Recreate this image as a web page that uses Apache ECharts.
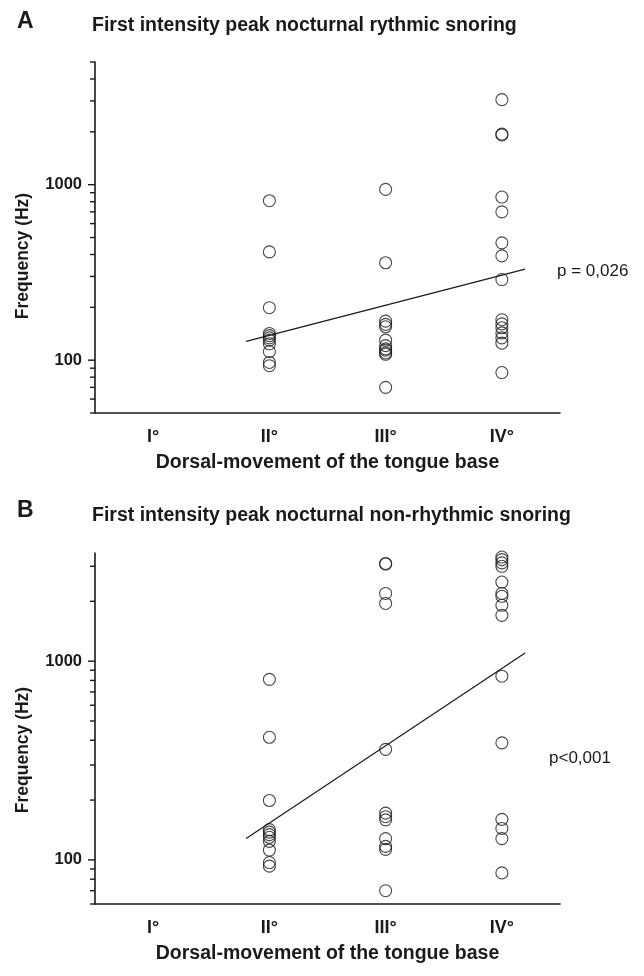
<!DOCTYPE html>
<html>
<head>
<meta charset="utf-8">
<script src="https://cdn.jsdelivr.net/npm/echarts@6/dist/echarts.min.js"></script>
<style>
  html, body { margin: 0; padding: 0; background: #ffffff; }
  #chart { width: 644px; height: 976px; }
</style>
</head>
<body>
<div id="chart"></div>
<script>
// Tongue-base dorsal movement grades (x categories)
const categories = ['I°', 'II°', 'III°', 'IV°'];
const yTickLabels = [100, 1000];

// Panel A: first intensity peak, rhythmic snoring (Hz)
const rhythmicII  = [810, 414, 199, 142, 138, 134, 130, 124, 112, 97, 93];
const rhythmicIII = [940, 359, 167, 160, 155, 130, 121, 116, 114, 110, 108, 70];
const rhythmicIV  = [3050, 1940, 1920, 850, 700, 466, 393, 288, 170, 161, 153, 143, 134, 125, 85];
const rhythmicFit = [[0.8, 128], [3.2, 330]];
const rhythmicRange = [50, 5000];
const rhythmicMinorTicks = [50, 60, 70, 80, 90, 200, 300, 400, 500, 600, 700, 800, 900, 2000, 3000, 4000, 5000];

// Panel B: first intensity peak, non-rhythmic snoring (Hz)
const nonRhythmicII  = [810, 414, 199, 142, 138, 134, 130, 124, 112, 97, 93];
const nonRhythmicIII = [3100, 3080, 2190, 1950, 360, 172, 165, 159, 128, 117, 113, 70];
const nonRhythmicIV  = [3340, 3240, 3120, 3000, 2500, 2190, 2120, 1910, 1700, 840, 388, 160, 144, 128, 86];
const nonRhythmicFit = [[0.8, 128], [3.2, 1100]];
const nonRhythmicRange = [60, 3500];
const nonRhythmicMinorTicks = [60, 70, 80, 90, 200, 300, 400, 500, 600, 700, 800, 900, 2000, 3000];

const FONT = "'Liberation Sans', Arial, Helvetica, sans-serif";
const INK = '#1a1a1a';

function columnPoints(catIndex, values) {
  return values.map(v => [catIndex, v]);
}

function scatterSeries(gridIdx, cols) {
  const data = [];
  cols.forEach((vals, i) => { if (vals) data.push(...columnPoints(i, vals)); });
  return {
    type: 'scatter',
    xAxisIndex: gridIdx * 2,
    yAxisIndex: gridIdx,
    symbol: 'circle',
    symbolSize: 12,
    itemStyle: { color: 'rgba(0,0,0,0)', borderColor: INK, borderWidth: 1.1 },
    data: data,
    silent: true,
    z: 3
  };
}

function fitSeries(gridIdx, fit) {
  return {
    type: 'line',
    xAxisIndex: gridIdx * 2 + 1,
    yAxisIndex: gridIdx,
    data: fit,
    symbol: 'none',
    lineStyle: { color: INK, width: 1.2 },
    silent: true,
    z: 2
  };
}

// Left-pointing y ticks: long ones at the labelled decades, short ones between
function tickSeries(gridIdx, minor) {
  const data = minor.map(v => [-0.5, v, 0]).concat(yTickLabels.map(v => [-0.5, v, 1]));
  return {
    type: 'custom',
    xAxisIndex: gridIdx * 2 + 1,
    yAxisIndex: gridIdx,
    silent: true,
    clip: false,
    data: data,
    renderItem: function (params, api) {
      const p = api.coord([api.value(0), api.value(1)]);
      const len = api.value(2) ? 7 : 5;
      return {
        type: 'line',
        shape: { x1: p[0] - len, y1: p[1], x2: p[0], y2: p[1] },
        style: { stroke: INK, lineWidth: 1.4 }
      };
    }
  };
}

function categoryAxis(gridIdx) {
  return {
    type: 'category',
    gridIndex: gridIdx,
    data: categories,
    boundaryGap: true,
    axisLine: { onZero: false, lineStyle: { color: INK, width: 1.6 } },
    axisTick: { alignWithLabel: true, length: 6, lineStyle: { color: INK, width: 1.4 } },
    axisLabel: { color: INK, fontFamily: FONT, fontWeight: 'bold', fontSize: 18, margin: 15 },
    name: 'Dorsal-movement of the tongue base',
    nameLocation: 'middle',
    nameGap: 40,
    nameTextStyle: { color: INK, fontFamily: FONT, fontWeight: 'bold', fontSize: 19.5 },
    splitLine: { show: false }
  };
}

function positionAxis(gridIdx) {
  return { type: 'value', gridIndex: gridIdx, min: -0.5, max: 3.5, show: false };
}

function logAxis(gridIdx, range) {
  return {
    type: 'log',
    logBase: 10,
    gridIndex: gridIdx,
    min: range[0],
    max: range[1],
    axisLine: { show: true, onZero: false, lineStyle: { color: INK, width: 1.6 } },
    axisTick: { show: false },
    splitLine: { show: false },
    axisLabel: {
      color: INK, fontFamily: FONT, fontWeight: 'bold', fontSize: 16.5, margin: 13,
      formatter: function (v) {
        const hit = yTickLabels.find(t => Math.abs(t - v) / t < 1e-6);
        return hit ? String(hit) : '';
      }
    }
  };
}

function text(str, x, y, opts) {
  return Object.assign({
    type: 'text',
    x: x, y: y,
    style: {
      text: str,
      fill: INK,
      font: (opts && opts.font) || ('bold 19.5px ' + FONT),
      align: (opts && opts.align) || 'left',
      verticalAlign: 'middle'
    }
  }, opts && opts.rotation ? { rotation: opts.rotation } : {});
}

const chart = echarts.init(document.getElementById('chart'), null, { renderer: 'canvas' });

chart.setOption({
  backgroundColor: '#ffffff',
  animation: false,
  grid: [
    { left: 95, top: 62, width: 465, height: 351 },
    { left: 95, top: 553, width: 465, height: 351 }
  ],
  xAxis: [categoryAxis(0), positionAxis(0), categoryAxis(1), positionAxis(1)],
  yAxis: [logAxis(0, rhythmicRange), logAxis(1, nonRhythmicRange)],
  series: [
    tickSeries(0, rhythmicMinorTicks),
    fitSeries(0, rhythmicFit),
    scatterSeries(0, [null, rhythmicII, rhythmicIII, rhythmicIV]),
    tickSeries(1, nonRhythmicMinorTicks),
    fitSeries(1, nonRhythmicFit),
    scatterSeries(1, [null, nonRhythmicII, nonRhythmicIII, nonRhythmicIV])
  ],
  graphic: [
    text('A', 17, 22, { font: 'bold 23px ' + FONT }),
    text('First intensity peak nocturnal rythmic snoring', 92, 26),
    text('Frequency (Hz)', 23, 256, { rotation: Math.PI / 2, align: 'center', font: 'bold 17.5px ' + FONT }),
    text('p = 0,026', 557, 271, { font: '17px ' + FONT }),
    text('B', 17, 511, { font: 'bold 23px ' + FONT }),
    text('First intensity peak nocturnal non-rhythmic snoring', 92, 516),
    text('Frequency (Hz)', 23, 750, { rotation: Math.PI / 2, align: 'center', font: 'bold 17.5px ' + FONT }),
    text('p<0,001', 549, 758, { font: '17px ' + FONT })
  ]
});
</script>
</body>
</html>
